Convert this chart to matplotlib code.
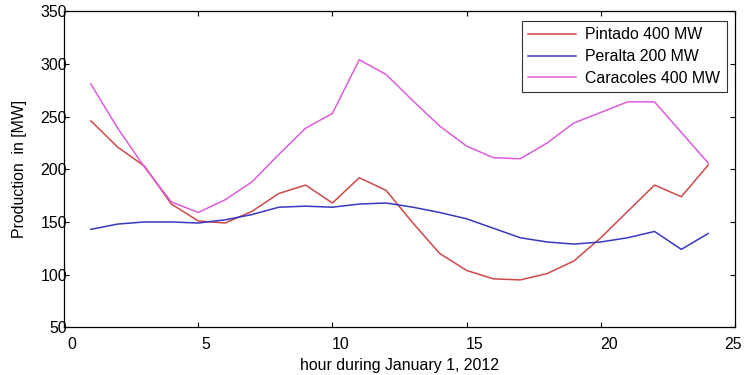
import matplotlib
matplotlib.use("Agg")
import matplotlib.pyplot as plt
import matplotlib.transforms as mtransforms

hours = list(range(1, 25))
pintado = [246, 221, 203, 167, 151, 149, 160, 177, 185, 168, 192, 180,
           149, 120, 104, 96, 95, 101, 113, 135, 160, 185, 174, 204]
peralta = [143, 148, 150, 150, 149, 152, 157, 164, 165, 164, 167, 168,
           164, 159, 153, 144, 135, 131, 129, 131, 135, 141, 124, 139]
caracoles = [281, 239, 202, 169, 159, 171, 188, 214, 239, 253, 304, 290,
             265, 241, 222, 211, 210, 225, 244, 254, 264, 264, 235, 206]
labels = ["Pintado 400 MW", "Peralta 200 MW", "Caracoles 400 MW"]
xticks = [0, 5, 10, 15, 20, 25]
yticks = [50, 100, 150, 200, 250, 300, 350]

plt.rcParams['font.family'] = ['Liberation Sans', 'DejaVu Sans']
plt.rcParams['font.size'] = 11.4

fig = plt.figure(figsize=(7.45, 3.75), dpi=100)
ax = fig.add_axes([0.0859, 0.1272, 0.9007, 0.8427])

ax.plot(hours, pintado, color='#d04848', lw=1.1, label=labels[0])
ax.plot(hours, peralta, color='#3838c0', lw=1.1, label=labels[1])
ax.plot(hours, caracoles, color='#dc5cdc', lw=1.1, label=labels[2])

ax.set_xlim(0, 25)
ax.set_ylim(50, 350)
ax.set_xticks(xticks)
ax.set_yticks(yticks)
ax.tick_params(direction='in', length=3.6, width=0.8, top=True, right=True,
               labelsize=11.4)
ax.tick_params(axis='x', pad=7)
ax.tick_params(axis='y', pad=-2.2)
for sp in ax.spines.values():
    sp.set_linewidth(0.9)

xlabs = ax.get_xticklabels()
for i, lab in enumerate(xlabs):
    dx = 8 if i < len(xlabs) - 1 else -2
    off = mtransforms.ScaledTranslation(dx / 100, 0, fig.dpi_scale_trans)
    lab.set_transform(lab.get_transform() + off)

ax.set_xlabel("hour during January 1, 2012", fontsize=11.4, labelpad=4.5)
ax.set_ylabel("Production  in [MW]", fontsize=11.4, labelpad=9.5)

leg = ax.legend(loc='upper right', bbox_to_anchor=(0.988, 0.970),
                borderaxespad=0, fancybox=False, frameon=True,
                edgecolor='black', handlelength=3.0, handletextpad=0.6,
                labelspacing=0.42, borderpad=0.42, fontsize=11.4)
leg.get_frame().set_linewidth(0.8)

fig.savefig("out.png", dpi=100)
